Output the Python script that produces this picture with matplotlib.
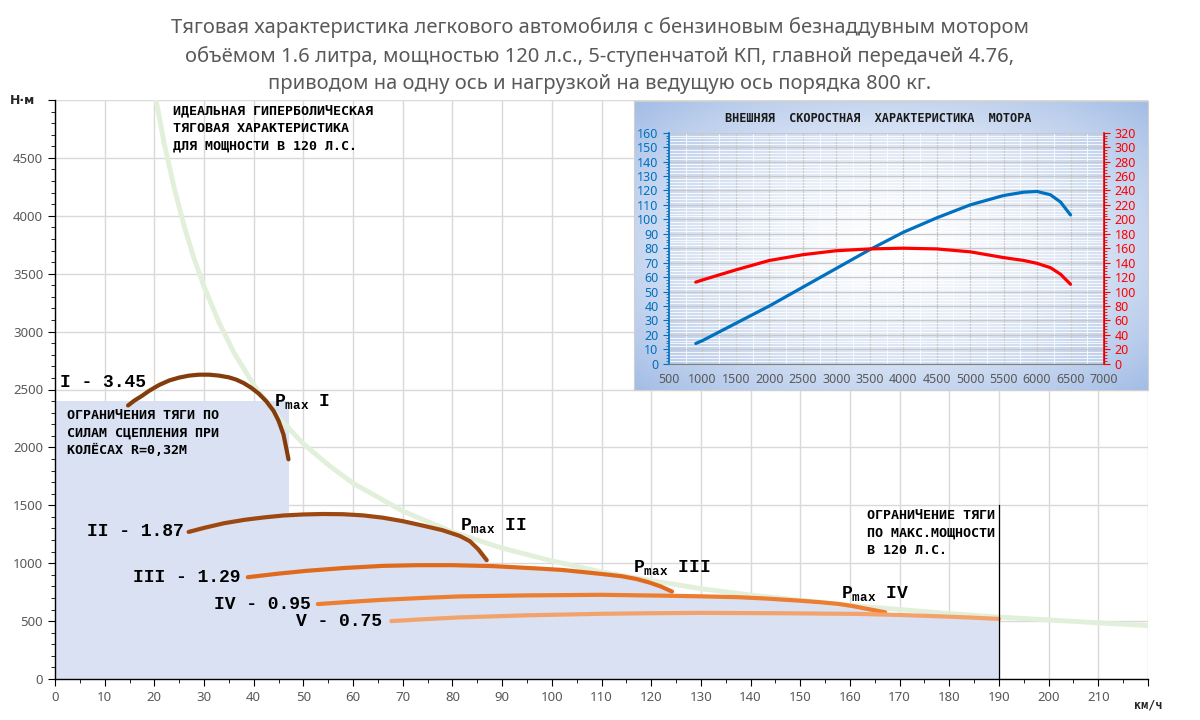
import numpy as np
import matplotlib.pyplot as plt

# ---- data ----
title = ("Тяговая характеристика легкового автомобиля с бензиновым безнаддувным мотором\n"
         "объёмом 1.6 литра, мощностью 120 л.с., 5-ступенчатой КП, главной передачей 4.76,\n"
         "приводом на одну ось и нагрузкой на ведущую ось порядка 800 кг.")

# ideal hyperbola (120 hp)
hyp_kmh = [20, 22, 24, 26, 28, 30, 33, 36, 40, 45, 50, 55, 60, 70, 80, 90, 100, 110,
           120, 130, 140, 150, 160, 170, 180, 190, 200, 210, 220]
hyp_nm = [5080, 4620, 4240, 3910, 3630, 3390, 3080, 2820, 2540, 2260, 2030, 1850, 1690,
          1450, 1270, 1130, 1020, 925, 850, 780, 725, 680, 635, 600, 565, 535, 510, 485, 462]

gear_names = ["I - 3.45", "II - 1.87", "III - 1.29", "IV - 0.95", "V - 0.75"]
g1_kmh = [14.7, 16, 17.5, 19, 21, 23, 25, 27, 29, 31, 33, 35, 36.5, 38, 39.5, 41, 42.5, 44, 45, 46, 47]
g1_nm = [2362, 2405, 2445, 2490, 2540, 2578, 2603, 2620, 2628, 2628, 2620, 2605, 2585, 2555,
         2515, 2465, 2400, 2315, 2230, 2110, 1897]
g2_kmh = [26.9, 30, 34, 38.2, 42, 46, 50, 54, 58, 62, 66, 70, 74, 78, 81.5, 83.5, 85.2, 86.9]
g2_nm = [1270, 1305, 1345, 1375, 1395, 1412, 1421, 1425, 1423, 1413, 1393, 1363, 1325, 1285,
         1235, 1190, 1120, 1026]
g3_kmh = [38.8, 45, 50.6, 58, 66, 73, 79.9, 88, 96.9, 102, 106, 110, 114, 117, 119.5, 122, 124.2]
g3_nm = [879, 910, 934, 958, 977, 983, 983, 975, 955, 942, 925, 907, 888, 864, 835, 798, 755]
g4_kmh = [52.9, 60, 66, 75, 81.5, 95, 109.9, 121.8, 130, 137.8, 143, 149.7, 154, 157.7, 160.5, 163.3, 167.1]
g4_nm = [647, 668, 684, 702, 713, 722, 727, 720, 714, 706, 695, 677, 663, 648, 630, 607, 576]
g5_kmh = [67.7, 75, 81.5, 95, 109.9, 120, 129.8, 145.7, 161.7, 170, 177.6, 184, 190]
g5_nm = [500, 518, 532, 550, 563, 568, 571, 568, 562, 553, 542, 531, 519]

grip_limit = 2400      # adhesion limit, N*m
vmax = 190             # km/h

# engine curve (inset)
rpm = [900, 1000, 1500, 2000, 2500, 3000, 3500, 4000, 4500, 5000, 5500, 5800, 6000, 6200, 6350, 6500]
power_hp = [14, 16, 28, 40, 53, 66, 79, 91, 101, 110, 116.5, 118.8, 119.3, 117, 112, 103]
torque_nm = [113, 116, 130, 143, 151, 156.5, 159, 160, 159, 155, 147, 143, 139, 133, 124, 110]

# ---- styling ----
gray_txt = "#595959"
shade = "#D9E1F2"
gear_colors = ["#843C0C", "#9E4811", "#E06A1C", "#ED7D31", "#F4A26B"]
mono = "DejaVu Sans Mono"
cour = "Liberation Mono"

fig = plt.figure(figsize=(12, 7.2), dpi=100)
ax = fig.add_axes([55 / 1200, 41 / 720, 1093 / 1200, 579 / 720])

fig.text(0.5, 1 - 17 / 720, title, ha="center", va="top", fontsize=14.5, color=gray_txt,
         family="Noto Sans", linespacing=1.5)

# grip-limited + gear envelope shading
ax.fill_between([0, g1_kmh[-1]], [grip_limit, grip_limit], color=shade, lw=0, zorder=1)
for gx, gy in [(g2_kmh, g2_nm), (g3_kmh, g3_nm), (g4_kmh, g4_nm), (g5_kmh, g5_nm)]:
    ax.fill_between(gx, gy, color=shade, lw=0, zorder=1)

ax.plot(hyp_kmh, hyp_nm, color="#E2EFDA", lw=3.5, zorder=2)

gears = [(g1_kmh, g1_nm), (g2_kmh, g2_nm), (g3_kmh, g3_nm), (g4_kmh, g4_nm), (g5_kmh, g5_nm)]
for (gx, gy), c in zip(gears, gear_colors):
    ax.plot(gx, gy, color=c, lw=3, solid_capstyle="round", solid_joinstyle="round", zorder=3)

ax.plot([vmax, vmax], [0, 1500], color="black", lw=0.9, zorder=3)

# axes
ax.set_xlim(0, 220)
ax.set_ylim(0, 5000)
ax.set_xticks(np.arange(0, 221, 10))
ax.set_xticklabels([str(v) for v in range(0, 220, 10)] + [""])
ax.set_xticks(np.arange(0, 221, 5), minor=True)
ax.set_yticks(np.arange(0, 5001, 500))
ax.set_yticklabels([str(v) for v in range(0, 5000, 500)] + [""])
ax.set_yticks(np.arange(0, 5001, 100), minor=True)
ax.grid(True, which="major", color="#D9D9D9", lw=1, zorder=0)
ax.set_axisbelow(True)
for s in ["top", "right"]:
    ax.spines[s].set_visible(False)
for s in ["left", "bottom"]:
    ax.spines[s].set_color("black")
    ax.spines[s].set_linewidth(1)
ax.tick_params(which="major", length=5, color="black", labelcolor=gray_txt, labelsize=9.5)
ax.tick_params(which="minor", length=3, color="black")
for lab in ax.get_xticklabels() + ax.get_yticklabels():
    lab.set_family("Noto Sans")
ax.text(-0.018, 1.0, "Н·м", transform=ax.transAxes, ha="right", va="center",
        fontsize=9, fontweight="bold", color="#262626")
ax.text(220, -170, "км/ч", ha="center", va="top", fontsize=8.5, fontweight="bold",
        family=mono, color="#262626")

# gear labels
ax.text(1, 2560, gear_names[0], ha="left", va="center", fontsize=13, fontweight="bold", family=cour)
ax.text(26, 1270, gear_names[1], ha="right", va="center", fontsize=13, fontweight="bold", family=cour)
ax.text(37.3, 879, gear_names[2], ha="right", va="center", fontsize=13, fontweight="bold", family=cour)
ax.text(51.4, 647, gear_names[3], ha="right", va="center", fontsize=13, fontweight="bold", family=cour)
ax.text(65.9, 500, gear_names[4], ha="right", va="center", fontsize=13, fontweight="bold", family=cour)

pmax = [("I", 44, 2400), ("II", 81.5, 1328), ("III", 116.3, 965), ("IV", 158.3, 735)]
for g, px, py in pmax:
    ax.text(px, py, r"P$_{\mathregular{max}}$ " + g, ha="left", va="center", fontsize=13,
            fontweight="bold", family=cour)

ax.text(23.8, 4960, "ИДЕАЛЬНАЯ ГИПЕРБОЛИЧЕСКАЯ\nТЯГОВАЯ ХАРАКТЕРИСТИКА\nДЛЯ МОЩНОСТИ В 120 Л.С.",
        ha="left", va="top", fontsize=9.6, fontweight="bold", family=mono, linespacing=1.45,
        zorder=4)
ax.text(2.4, 2330, "ОГРАНИЧЕНИЯ ТЯГИ ПО\nСИЛАМ СЦЕПЛЕНИЯ ПРИ\nКОЛЁСАХ R=0,32М",
        ha="left", va="top", fontsize=9.6, fontweight="bold", family=mono, linespacing=1.45, zorder=4)
ax.text(163.5, 1470, "ОГРАНИЧЕНИЕ ТЯГИ\nПО МАКС.МОЩНОСТИ\nВ 120 Л.С.",
        ha="left", va="top", fontsize=9.6, fontweight="bold", family=mono, linespacing=1.45, zorder=4)

# ---- inset: engine characteristic ----
bg = fig.add_axes([634 / 1200, 330 / 720, 514 / 1200, 289 / 720])
yy, xx = np.mgrid[0:1:200j, 0:1:300j]
t = np.clip(np.hypot((xx - 0.5) / 0.5, (yy - 0.5) / 0.5) / np.sqrt(2), 0, 1) ** 1.4
blue = np.array([0.64, 0.74, 0.90])
img = (1 - t[..., None]) * np.ones(3) + t[..., None] * blue
bg.imshow(img, aspect="auto", extent=[0, 1, 0, 1], origin="upper")
bg.set_xticks([])
bg.set_yticks([])
for s in bg.spines.values():
    s.set_color("#D0D0D0")

ins = fig.add_axes([669 / 1200, 356.3 / 720, 435 / 1200, 231 / 720])
ins.patch.set_alpha(0)
ins.plot(rpm, power_hp, color="#0070C0", lw=2.3, solid_capstyle="round", zorder=3)
ins.set_xlim(500, 7000)
ins.set_ylim(0, 160)
ins.set_xticks(np.arange(500, 7001, 500))
ins.set_xticks(np.arange(500, 7001, 250), minor=True)
ins.set_yticks(np.arange(0, 161, 10))
ins.set_yticks(np.arange(0, 161, 2), minor=True)
ins.grid(True, which="minor", color="white", lw=0.8, alpha=0.8, zorder=0)
ins.grid(True, which="major", color="#C8C8C8", lw=0.9, zorder=0)
ins.tick_params(axis="x", which="both", length=0, pad=7, labelsize=9, labelcolor=gray_txt)
ins.tick_params(axis="y", which="major", length=4, color="#0070C0", labelsize=9, labelcolor="#0070C0")
ins.tick_params(axis="y", which="minor", length=2, color="#0070C0")
ins.spines["left"].set_color("#0070C0")
ins.spines["left"].set_linewidth(1.2)
ins.spines["top"].set_visible(False)
ins.spines["bottom"].set_color("#7F7F7F")

tw = ins.twinx()
tw.plot(rpm, torque_nm, color="#FF0000", lw=2.3, solid_capstyle="round", zorder=3)
tw.set_ylim(0, 320)
tw.set_yticks(np.arange(0, 321, 20))
tw.set_yticks(np.arange(0, 321, 4), minor=True)
tw.tick_params(axis="y", which="major", length=4, color="#FF0000", labelsize=9, labelcolor="#FF0000")
tw.tick_params(axis="y", which="minor", length=2, color="#FF0000")
tw.spines["right"].set_color("#FF0000")
tw.spines["right"].set_linewidth(1.2)
tw.spines["left"].set_visible(False)
tw.spines["top"].set_visible(False)
tw.spines["bottom"].set_visible(False)
for lab in ins.get_xticklabels() + ins.get_yticklabels() + tw.get_yticklabels():
    lab.set_family("Noto Sans")

fig.text(878 / 1200, 1 - 119 / 720, "ВНЕШНЯЯ  СКОРОСТНАЯ  ХАРАКТЕРИСТИКА  МОТОРА", ha="center",
         va="center", fontsize=8.6, fontweight="bold", family=mono, color="#1a1a1a")

fig.savefig("out.png", dpi=100)
